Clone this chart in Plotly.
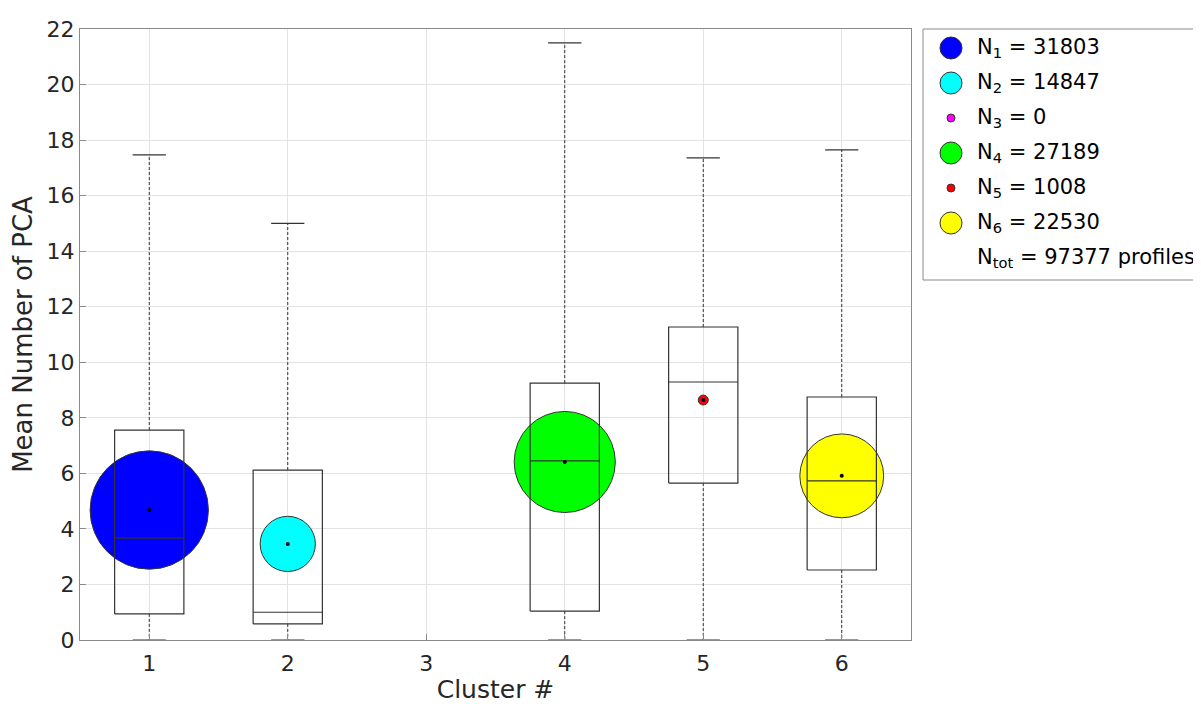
import plotly.graph_objects as go

# ---- data ----
clusters = [1, 2, 3, 4, 5, 6]
q1 = [0.94, 0.58, None, 1.04, 5.65, 2.52]
median = [3.67, 1.00, None, 6.45, 9.29, 5.73]
q3 = [7.56, 6.12, None, 9.25, 11.27, 8.75]
whisker_low = [0.0, 0.0, None, 0.0, 0.0, 0.0]
whisker_high = [17.47, 15.0, None, 21.5, 17.36, 17.65]
means = [4.68, 3.46, None, 6.41, 8.64, 5.91]
counts = [31803, 14847, 0, 27189, 1008, 22530]
colors = ["#0000ff", "#00ffff", "#ff00ff", "#00ff00", "#ff0000", "#ffff00"]
n_total = 97377
y_ticks = list(range(0, 23, 2))

FONT = "DejaVu Sans"
TXT = "#262626"
FRAME = "#8a8a8a"
BOX_HALF = 0.25
CAP_HALF = 0.12

# page geometry (plot area in page pixels, body offset 8px)
W, H = 1193, 696
ML, MR, MT, MB = 72, 290, 21, 64
PX0, PX1 = 80, 911
PY0, PY1 = 29, 640


def px_to_paper_x(px):
    return (px - PX0) / (PX1 - PX0)


def py_to_paper_y(py):
    return (PY1 - py) / (PY1 - PY0)


fig = go.Figure()

# mean circles (size proportional to count)
for c, m, n, col in zip(clusters, means, counts, colors):
    if m is None:
        continue
    size = max(n * 0.00372, 10)
    fig.add_trace(go.Scatter(
        x=[c], y=[m], mode="markers",
        marker=dict(size=size, color=col, line=dict(color="#333333", width=1)),
        showlegend=False, hoverinfo="skip"))

# boxes, medians, caps (solid) and whiskers (dashed)
bx, by, wx, wy = [], [], [], []
for c, a, md, b, lo, hi in zip(clusters, q1, median, q3, whisker_low, whisker_high):
    if a is None:
        continue
    l, r = c - BOX_HALF, c + BOX_HALF
    bx += [l, r, r, l, l, None, l, r, None,
           c - CAP_HALF, c + CAP_HALF, None, c - CAP_HALF, c + CAP_HALF, None]
    by += [a, a, b, b, a, None, md, md, None, hi, hi, None, lo, lo, None]
    wx += [c, c, None, c, c, None]
    wy += [b, hi, None, a, lo, None]

fig.add_trace(go.Scatter(x=wx, y=wy, mode="lines",
                         line=dict(color="#333333", width=1, dash="3px,2px"),
                         showlegend=False, hoverinfo="skip"))
fig.add_trace(go.Scatter(x=bx, y=by, mode="lines",
                         line=dict(color="#333333", width=1.2),
                         showlegend=False, hoverinfo="skip"))

# mean centre dots
mx = [c for c, m in zip(clusters, means) if m is not None]
my = [m for m in means if m is not None]
fig.add_trace(go.Scatter(x=mx, y=my, mode="markers",
                         marker=dict(size=4, color="black"),
                         showlegend=False, hoverinfo="skip"))

# ---- custom legend (shapes + text) ----
shapes = [dict(type="rect", xref="paper", yref="paper",
               x0=px_to_paper_x(923), x1=px_to_paper_x(1215),
               y0=py_to_paper_y(280), y1=py_to_paper_y(29),
               line=dict(color=FRAME, width=1), fillcolor="white", layer="above")]
annotations = []
row_y = [48 + 35 * i for i in range(7)]
labels = [f"N<sub>{c}</sub> = {n}" for c, n in zip(clusters, counts)]
labels.append(f"N<sub>tot</sub> = {n_total} profiles")
for i, lab in enumerate(labels):
    yy = py_to_paper_y(row_y[i])
    if i < len(colors):
        d = 22 if counts[i] > 5000 else 8
        shapes.append(dict(type="circle", xref="paper", yref="paper",
                           xsizemode="pixel", ysizemode="pixel",
                           xanchor=px_to_paper_x(951), yanchor=yy,
                           x0=-d / 2, x1=d / 2, y0=-d / 2, y1=d / 2,
                           fillcolor=colors[i], line=dict(color="#333333", width=1),
                           layer="above"))
    annotations.append(dict(xref="paper", yref="paper", x=px_to_paper_x(975), y=yy,
                            xanchor="left", yanchor="middle", showarrow=False,
                            text=lab, font=dict(size=21, color="black", family=FONT)))

fig.update_layout(
    width=W, height=H,
    margin=dict(l=ML, r=MR, t=MT, b=MB, autoexpand=False),
    paper_bgcolor="white", plot_bgcolor="white",
    font=dict(family=FONT, color=TXT, size=22),
    showlegend=False,
    shapes=shapes, annotations=annotations,
    xaxis=dict(range=[0.5, 6.5], tickvals=clusters, ticktext=[str(c) for c in clusters],
               showgrid=True, gridcolor="#e3e3e3", zeroline=False,
               showline=True, linecolor=FRAME, mirror=True,
               ticks="inside", ticklen=6, tickcolor=FRAME,
               ticklabelstandoff=4,
               tickfont=dict(size=22, color=TXT),
               title=dict(text="Cluster #", font=dict(size=25, color=TXT), standoff=6)),
    yaxis=dict(range=[0, 22], tickvals=y_ticks,
               showgrid=True, gridcolor="#e3e3e3", zeroline=False,
               showline=True, linecolor=FRAME, mirror=True,
               ticks="inside", ticklen=6, tickcolor=FRAME,
               tickfont=dict(size=22, color=TXT),
               title=dict(text="Mean Number of PCA", font=dict(size=26, color=TXT), standoff=11)),
)

fig.write_html("out.html")
